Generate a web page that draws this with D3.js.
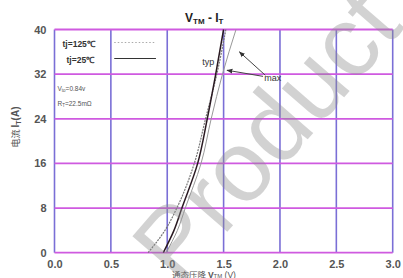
<!DOCTYPE html>
<html>
<head>
<meta charset="utf-8">
<script src="https://cdn.jsdelivr.net/npm/d3@7"></script>
<style>
  body { margin: 0; background: #fff; }
  text { font-family: "Liberation Sans", Arial, sans-serif; }
</style>
</head>
<body>
<svg id="drawing_region"></svg>
<script>
// forward voltage V (x) vs on-state current I (y)
const x_ticks = [0.0, 0.5, 1.0, 1.5, 2.0, 2.5, 3.0];
const y_ticks = [0, 8, 16, 24, 32, 40];

const current = [0, 4, 8, 16, 24, 32, 40];
const v_typ25 = [0.965, 1.06, 1.13, 1.27, 1.355, 1.43, 1.50];
const v_typ125 = [0.83, 0.98, 1.085, 1.24, 1.34, 1.44, 1.52];
const v_max = [0.99, 1.09, 1.16, 1.30, 1.39, 1.49, 1.61];

const config = {
    width: 403,
    height: 278
};

const svg = d3.select('#drawing_region')
    .attr('width', config.width)
    .attr('height', config.height);

const inner_width = 392.7 - 54.5;
const inner_height = 252.7 - 29.5;

const chart = svg.append('g')
    .attr('transform', `translate(54.5, 29.5)`);

const xscale = d3.scaleLinear().domain([0, 3]).range([0, inner_width]);
const yscale = d3.scaleLinear().domain([0, 40]).range([inner_height, 0]);

// grid: vertical lines blue-violet, horizontal lines magenta
chart.selectAll('.vgrid')
    .data(x_ticks)
    .enter()
    .append('line')
    .attr('x1', d => xscale(d)).attr('x2', d => xscale(d))
    .attr('y1', 0).attr('y2', inner_height)
    .attr('stroke', '#7a6fd6')
    .attr('stroke-width', 1.6);

chart.selectAll('.hgrid')
    .data(y_ticks)
    .enter()
    .append('line')
    .attr('x1', 0).attr('x2', inner_width)
    .attr('y1', d => yscale(d)).attr('y2', d => yscale(d))
    .attr('stroke', '#cf5ae0')
    .attr('stroke-width', 1.8);

// axes, only the labels are kept
const xaxis = d3.axisBottom(xscale).tickValues(x_ticks).tickFormat(d3.format('.1f')).tickSize(0).tickPadding(8);
const yaxis = d3.axisLeft(yscale).tickValues(y_ticks).tickSize(0).tickPadding(8);

const xg = chart.append('g').attr('transform', `translate(0, ${inner_height})`).call(xaxis);
const yg = chart.append('g').call(yaxis);
[xg, yg].forEach(g => {
    g.select('.domain').remove();
    g.selectAll('text')
        .attr('font-size', '11px')
        .attr('font-weight', 'bold')
        .attr('fill', '#555');
});

// curves
const line = d3.line()
    .x(d => xscale(d[0]))
    .y(d => yscale(d[1]))
    .curve(d3.curveMonotoneY);

chart.append('path')
    .datum(v_max.map((v, i) => [v, current[i]]))
    .attr('d', line)
    .attr('fill', 'none')
    .attr('stroke', '#999')
    .attr('stroke-width', 1);

chart.append('path')
    .datum(v_typ125.map((v, i) => [v, current[i]]))
    .attr('d', line)
    .attr('fill', 'none')
    .attr('stroke', '#777')
    .attr('stroke-width', 1.2)
    .attr('stroke-dasharray', '2,1');

chart.append('path')
    .datum(v_typ25.map((v, i) => [v, current[i]]))
    .attr('d', line)
    .attr('fill', 'none')
    .attr('stroke', '#2a1a22')
    .attr('stroke-width', 1.5);

// annotations
chart.append('text')
    .attr('x', xscale(1.31)).attr('y', yscale(33.6))
    .attr('font-size', '9px').attr('fill', '#333')
    .text('typ');

chart.append('text')
    .attr('x', xscale(1.86)).attr('y', yscale(30.7))
    .attr('font-size', '9px').attr('fill', '#333')
    .text('max');

const defs = svg.append('defs');
defs.append('marker')
    .attr('id', 'arrow')
    .attr('viewBox', '0 0 10 10')
    .attr('refX', 9).attr('refY', 5)
    .attr('markerWidth', 6).attr('markerHeight', 6)
    .attr('orient', 'auto')
    .append('path')
    .attr('d', 'M0,1 L10,5 L0,9 Z')
    .attr('fill', '#333');

const arrows = [[1.85, 31.6, 1.53, 32.7], [1.87, 31.8, 1.64, 36.0]];
chart.selectAll('.arrow')
    .data(arrows)
    .enter()
    .append('line')
    .attr('x1', d => xscale(d[0])).attr('y1', d => yscale(d[1]))
    .attr('x2', d => xscale(d[2])).attr('y2', d => yscale(d[3]))
    .attr('stroke', '#444')
    .attr('stroke-width', 1)
    .attr('marker-end', 'url(#arrow)');

// legend (top-left cell)
const legend = chart.append('g');
legend.append('text')
    .attr('x', 8).attr('y', 17)
    .attr('font-size', '8.5px').attr('font-weight', 'bold').attr('fill', '#333')
    .text('tj=125℃');
legend.append('text')
    .attr('x', 12).attr('y', 33)
    .attr('font-size', '8.5px').attr('font-weight', 'bold').attr('fill', '#333')
    .text('tj=25℃');
legend.append('line')
    .attr('x1', xscale(0.53)).attr('x2', xscale(0.9))
    .attr('y1', 13).attr('y2', 13)
    .attr('stroke', '#aaa').attr('stroke-dasharray', '1.5,2');
legend.append('line')
    .attr('x1', xscale(0.53)).attr('x2', xscale(0.9))
    .attr('y1', 29).attr('y2', 29)
    .attr('stroke', '#333');

const vto = chart.append('text')
    .attr('x', 3).attr('y', 61)
    .attr('font-size', '6.5px').attr('fill', '#555');
vto.append('tspan').text('V');
vto.append('tspan').attr('font-size', '4.5px').attr('dy', 1.5).text('to');
vto.append('tspan').attr('dy', -1.5).text('=0.84v');

const rt = chart.append('text')
    .attr('x', 3).attr('y', 76)
    .attr('font-size', '6.5px').attr('fill', '#555');
rt.append('tspan').text('R');
rt.append('tspan').attr('font-size', '4.5px').attr('dy', 1.5).text('T');
rt.append('tspan').attr('dy', -1.5).text('=22.5mΩ');

// title
const title = svg.append('text')
    .attr('x', 185).attr('y', 22)
    .attr('font-size', '12px').attr('font-weight', 'bold')
    .attr('font-family', '"Liberation Serif", serif')
    .attr('fill', '#222');
title.append('tspan').text('V');
title.append('tspan').attr('font-size', '8px').attr('dy', 2).text('TM');
title.append('tspan').attr('dy', -2).text('  -  I');
title.append('tspan').attr('font-size', '8px').attr('dy', 2).text('T');

// axis labels
const ylabel = svg.append('text')
    .attr('transform', 'translate(19, 127) rotate(-90)')
    .attr('text-anchor', 'middle')
    .attr('font-size', '10px').attr('font-weight', 'bold')
    .attr('fill', '#555');
ylabel.append('tspan').attr('font-family', '"Noto Sans CJK SC"').attr('font-size', '9px').attr('font-weight', 'normal').text('电流 ');
ylabel.append('tspan').text('I');
ylabel.append('tspan').attr('font-size', '7px').attr('dy', 2).text('T');
ylabel.append('tspan').attr('dy', -2).text('(A)');

const xlabel = svg.append('text')
    .attr('x', 172).attr('y', 277.5)
    .attr('font-size', '8.5px')
    .attr('fill', '#555');
xlabel.append('tspan').attr('font-family', '"Noto Sans CJK SC"').text('通态压降 ');
xlabel.append('tspan').attr('font-weight', 'bold').text('V');
xlabel.append('tspan').attr('font-size', '6px').attr('dy', 0.5).text('TM');
xlabel.append('tspan').attr('dy', -0.5).text(' (V)');

// watermark
svg.append('text')
    .attr('transform', 'translate(272, 140) rotate(-49)')
    .attr('text-anchor', 'middle')
    .attr('dominant-baseline', 'middle')
    .attr('font-size', '100px')
    .attr('fill', '#8c8c8c')
    .attr('opacity', 0.38)
    .text('Product');
</script>
</body>
</html>
